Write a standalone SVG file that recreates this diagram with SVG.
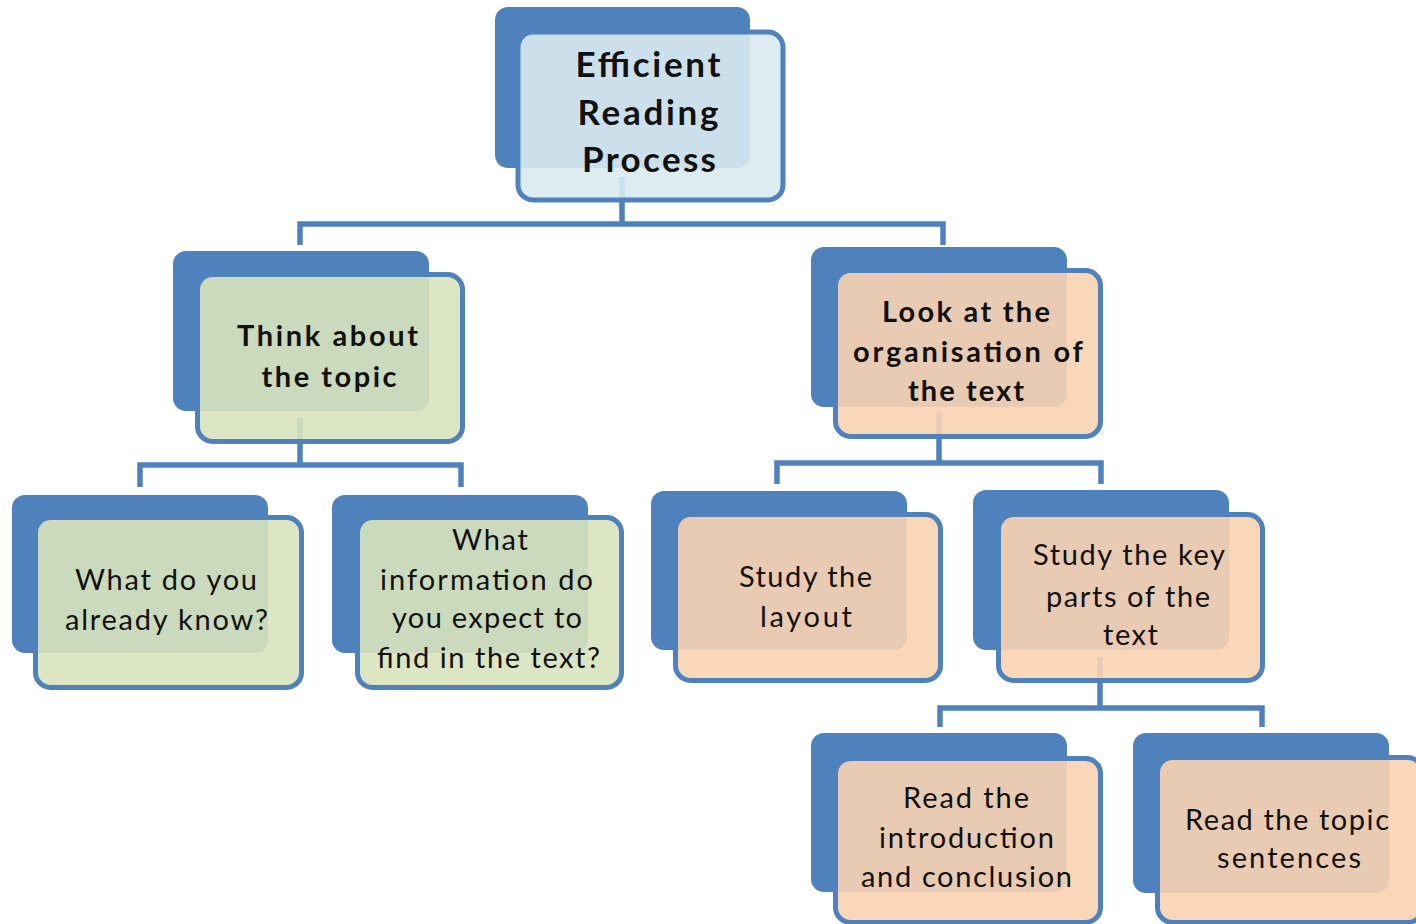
<svg xmlns="http://www.w3.org/2000/svg" width="1416" height="924" viewBox="0 0 1416 924">
<style>
.back{fill:#4f81bd}
.front{stroke:#4f81bd;stroke-width:5;fill-opacity:0.9}
.g{fill:#d8e3bb}
.o{fill:#f9d3b1}
.b{fill:#d9eaf0}
.conn{fill:none;stroke:#4f81bd;stroke-width:5.5;stroke-linejoin:miter}
text{font-family:Lato,"Open Sans","Liberation Sans",sans-serif;fill:#111;text-anchor:middle}
.t1{font-size:35px;font-weight:bold}
.t2{font-size:29px;font-weight:bold}
.t3{font-size:29px}
</style>
<rect width="1416" height="924" fill="#ffffff"/>
<g id="connectors">
<path class="conn" d="M622 177V224M300 245V224H943V245"/>
<path class="conn" d="M300 418V465M140 487V465H461V487"/>
<path class="conn" d="M939 413V463M777 484V463H1101V484"/>
<path class="conn" d="M1100 657V708M940 727V708H1262V727"/>
</g>
<g id="n-root">
<rect class="back" x="495" y="7" width="255" height="161" rx="13"/>
<rect class="front b" x="518" y="32" width="265" height="168" rx="15"/>
<text class="t1" x="648" y="77" textLength="145">Efficient</text>
<text class="t1" x="648" y="125" textLength="141">Reading</text>
<text class="t1" x="649" y="172" textLength="134">Process</text>
</g>
<g id="n-think">
<rect class="back" x="173" y="251" width="256" height="160" rx="13"/>
<rect class="front g" x="197.5" y="274.5" width="265" height="167" rx="15"/>
<text class="t2" x="327.5" y="346" textLength="181">Think about</text>
<text class="t2" x="329" y="387" textLength="135">the topic</text>
</g>
<g id="n-look">
<rect class="back" x="811" y="247" width="256" height="160" rx="13"/>
<rect class="front o" x="835.5" y="270.5" width="265" height="166" rx="15"/>
<text class="t2" x="966" y="322" textLength="168">Look at the</text>
<text class="t2" x="968" y="362" textLength="230">organisation of</text>
<text class="t2" x="966" y="401" textLength="116">the text</text>
</g>
<g id="n-know">
<rect class="back" x="12" y="495" width="256" height="158" rx="13"/>
<rect class="front g" x="35.5" y="517.5" width="266" height="170" rx="15"/>
<text class="t3" x="166" y="590" textLength="182">What do you</text>
<text class="t3" x="166.5" y="630" textLength="203">already know?</text>
</g>
<g id="n-expect">
<rect class="back" x="332" y="495" width="256" height="158" rx="13"/>
<rect class="front g" x="357.5" y="517.5" width="264" height="170" rx="15"/>
<text class="t3" x="490" y="550" textLength="76">What</text>
<text class="t3" x="486.5" y="590" textLength="213">information do</text>
<text class="t3" x="487" y="628" textLength="190">you expect to</text>
<text class="t3" x="488.5" y="668" textLength="223">find in the text?</text>
</g>
<g id="n-layout">
<rect class="back" x="651" y="491" width="256" height="159" rx="13"/>
<rect class="front o" x="675.5" y="514.5" width="265" height="166" rx="15"/>
<text class="t3" x="805.5" y="587" textLength="133">Study the</text>
<text class="t3" x="806" y="627" textLength="92">layout</text>
</g>
<g id="n-key">
<rect class="back" x="973" y="490" width="256" height="160" rx="13"/>
<rect class="front o" x="998.5" y="514.5" width="264" height="166" rx="15"/>
<text class="t3" x="1129" y="565" textLength="192">Study the key</text>
<text class="t3" x="1128" y="607" textLength="164">parts of the</text>
<text class="t3" x="1130.5" y="645" textLength="55">text</text>
</g>
<g id="n-intro">
<rect class="back" x="811" y="733" width="256" height="159" rx="13"/>
<rect class="front o" x="835.5" y="758.5" width="265" height="164" rx="15"/>
<text class="t3" x="966" y="808" textLength="126">Read the</text>
<text class="t3" x="966.5" y="848" textLength="175">introduction</text>
<text class="t3" x="966.5" y="887" textLength="211">and conclusion</text>
</g>
<g id="n-topic">
<rect class="back" x="1133" y="733" width="256" height="160" rx="13"/>
<rect class="front o" x="1157.5" y="757.5" width="265" height="165" rx="15"/>
<text class="t3" x="1287" y="830" textLength="204">Read the topic</text>
<text class="t3" x="1289" y="868" textLength="144">sentences</text>
</g>
</svg>
